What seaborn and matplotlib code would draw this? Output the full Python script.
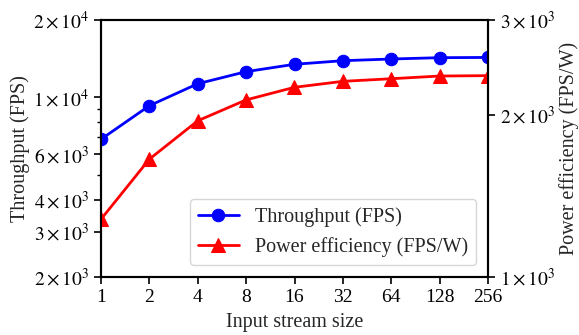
import matplotlib
matplotlib.use("Agg")
import matplotlib.pyplot as plt
import seaborn as sns
import pandas as pd
import math
from matplotlib.ticker import FixedLocator, FuncFormatter, NullFormatter, NullLocator

stream_size = [1, 2, 4, 8, 16, 32, 64, 128, 256]
throughput = [6870, 9280, 11300, 12590, 13450, 13890, 14100, 14270, 14300]
power_eff = [1280, 1655, 1950, 2132, 2250, 2308, 2334, 2361, 2365]

left_ticks = [2e3, 3e3, 4e3, 6e3, 1e4, 2e4]
left_minor = [5e3, 7e3, 8e3, 9e3]
right_ticks = [1e3, 2e3, 3e3]

sns.set_theme(style="ticks")
plt.rcParams["font.family"] = ["Liberation Serif", "DejaVu Serif"]
plt.rcParams["mathtext.fontset"] = "stix"
plt.rcParams["font.size"] = 14


def sci(v, p=None):
    e = int(math.floor(math.log10(v) + 1e-9))
    m = int(round(v / 10 ** e))
    return rf"${m}\times10^{{{e}}}$"


df = pd.DataFrame({"size": stream_size, "thr": throughput, "pe": power_eff})

fig = plt.figure(figsize=(5.79, 3.35), dpi=100)
ax = fig.add_axes([101/579, 1-277/335, (488-101)/579, (277-20)/335])
ax2 = ax.twinx()

sns.lineplot(data=df, x="size", y="thr", ax=ax, color="blue", marker="o",
             markersize=9, markeredgecolor="blue", linewidth=2, label="Throughput (FPS)", legend=False)
sns.lineplot(data=df, x="size", y="pe", ax=ax2, color="red", marker="^",
             markersize=10, markeredgecolor="red", linewidth=2, label="Power efficiency (FPS/W)", legend=False)

ax.set_xscale("log", base=2)
ax.set_xlim(1, 256)
ax.xaxis.set_major_locator(FixedLocator(stream_size))
ax.xaxis.set_major_formatter(FuncFormatter(lambda v, p: f"{int(round(v))}"))
ax.xaxis.set_minor_locator(NullLocator())

ax.set_yscale("log")
ax.set_ylim(2e3, 2e4)
ax.yaxis.set_major_locator(FixedLocator(left_ticks))
ax.yaxis.set_major_formatter(FuncFormatter(sci))
ax.yaxis.set_minor_locator(FixedLocator(left_minor))
ax.yaxis.set_minor_formatter(NullFormatter())

ax2.set_yscale("log")
ax2.set_ylim(1e3, 3e3)
ax2.yaxis.set_major_locator(FixedLocator(right_ticks))
ax2.yaxis.set_major_formatter(FuncFormatter(sci))
ax2.yaxis.set_minor_locator(NullLocator())
ax2.yaxis.set_minor_formatter(NullFormatter())

ax.set_xlabel("Input stream size", fontsize=14.5, labelpad=5)
ax.set_ylabel("Throughput (FPS)", fontsize=14.5, labelpad=2)
ax2.set_ylabel("Power efficiency (FPS/W)", fontsize=14.5, labelpad=3)

for a in (ax, ax2):
    a.tick_params(which="major", labelsize=14, colors="black", length=5, width=1.2)
    a.tick_params(which="minor", colors="black", length=3, width=1.0)
    for s in a.spines.values():
        s.set_visible(True)
        s.set_color("black")
        s.set_linewidth(1.5)

h1, l1 = ax.get_legend_handles_labels()
h2, l2 = ax2.get_legend_handles_labels()
leg = ax.legend(h1 + h2, l1 + l2, loc="lower right", fontsize=14.5, frameon=True,
                borderaxespad=0.6, handlelength=2.0)
leg.get_frame().set_edgecolor("#cccccc")

fig.savefig("out.png", dpi=100)
